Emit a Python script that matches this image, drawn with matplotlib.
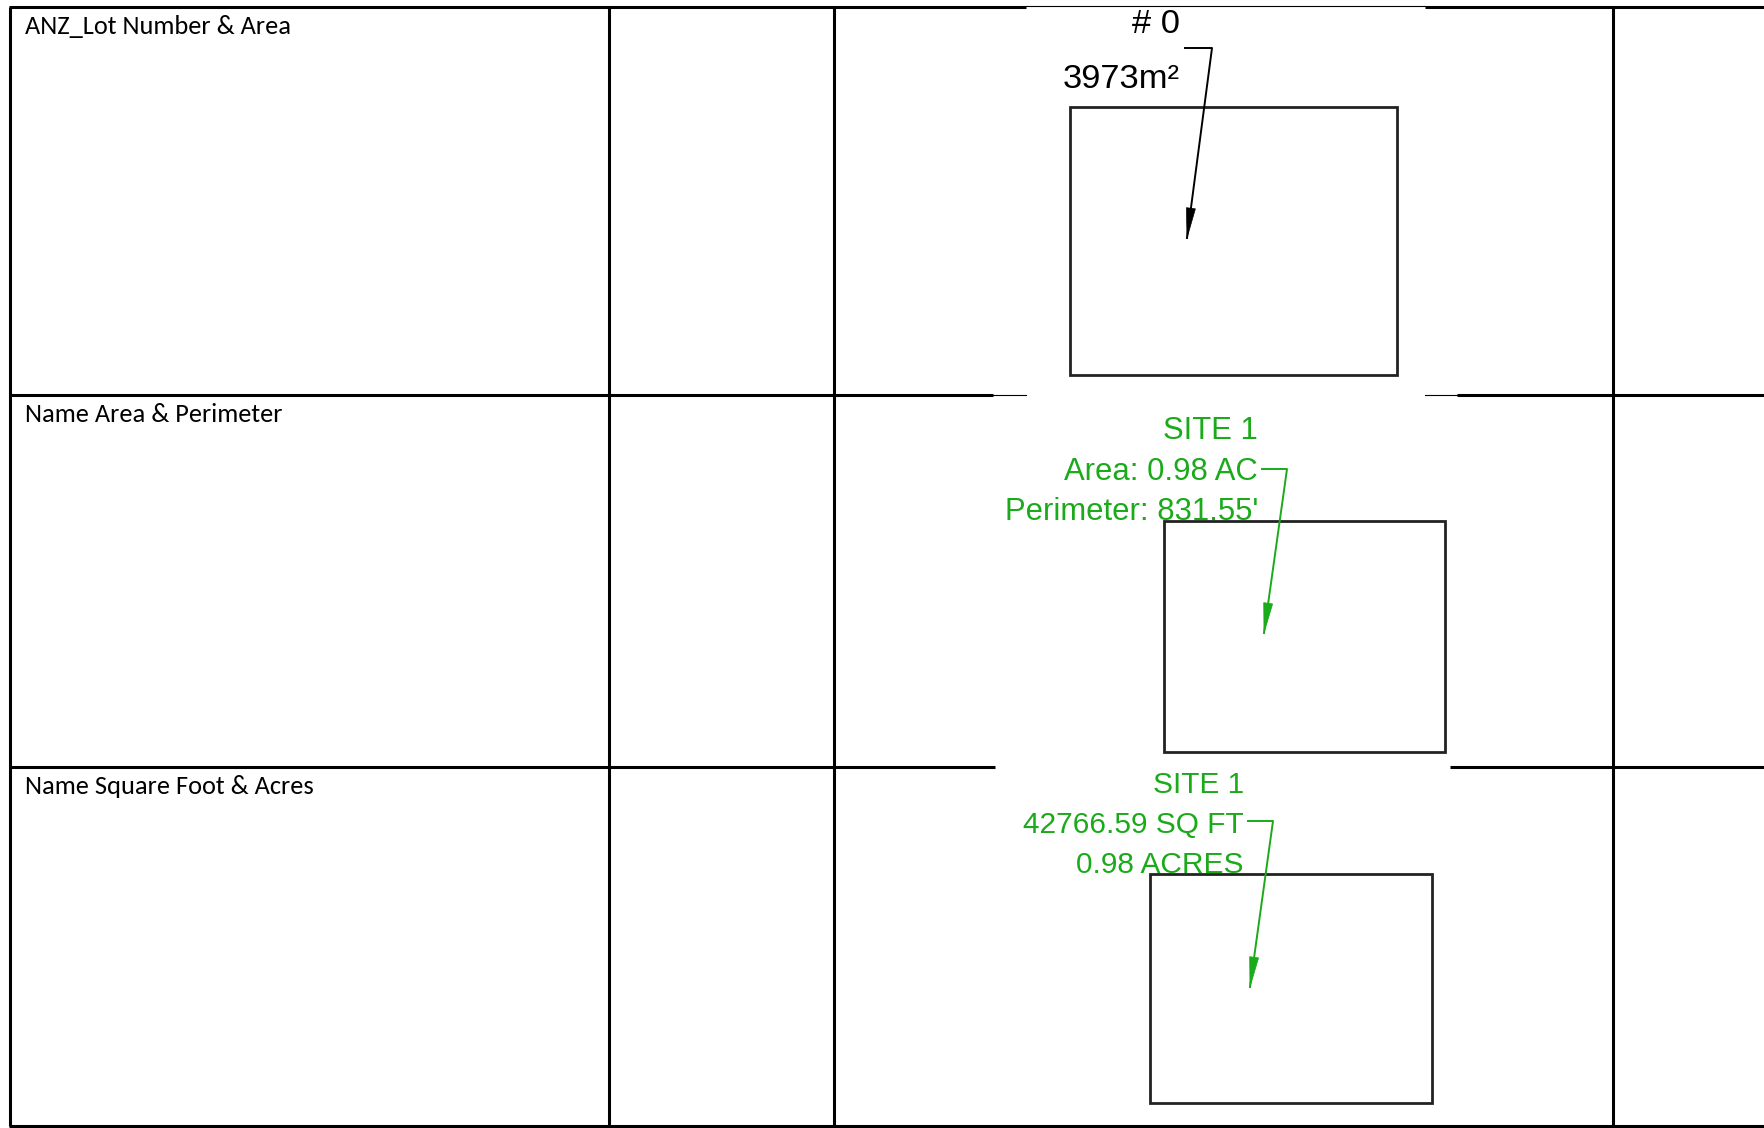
import matplotlib
matplotlib.use('Agg')
import matplotlib.pyplot as plt
from matplotlib import font_manager
from matplotlib.patches import Rectangle, Polygon
import numpy as np

# table content
row_labels = ['ANZ_Lot Number & Area', 'Name Area & Perimeter', 'Name Square Foot & Acres']
label_lines = [['# 0', '3973m²'],
               ['SITE 1', 'Area: 0.98 AC', "Perimeter: 831.55'"],
               ['SITE 1', '42766.59 SQ FT', '0.98 ACRES']]
label_colors = ['black', '#1aaa1a', '#1aaa1a']

# page layout in pixels (y down)
W, H = 1764, 1128
col_x = [10, 609, 834, 1613]
row_y = [7, 395, 767, 1126]
# pasted CAD images hide the table rules: (x0, x1) per row line
gaps = {7: (1026, 1425), 395: (993, 1457), 767: (995, 1450)}

# CAD panels: text right edge, baselines, leader (start, corner, tip), lot box
panels = [
    dict(tx=1180, base=[33, 88], lead=[(1185, 48), (1212, 48), (1187, 238)],
         box=(1070, 107, 327, 268), text_w=117),
    dict(tx=1258, base=[439, 479.5, 520], lead=[(1262, 469), (1287, 469), (1264, 633)],
         box=(1164, 521, 281, 231), text_w=252),
    dict(tx=1244, base=[793, 833, 873], lead=[(1248, 821), (1273, 821), (1250, 987)],
         box=(1150, 874, 282, 229), text_w=221),
]


def pick_font(names):
    for n in names:
        try:
            font_manager.findfont(n, fallback_to_default=False)
            return n
        except ValueError:
            pass
    return 'DejaVu Sans'


cad_font = pick_font(['Liberation Sans', 'Roboto'])
label_font = pick_font(['Carlito', 'Lato'])

fig = plt.figure(figsize=(W / 100, H / 100), dpi=100)
ax = fig.add_axes([0, 0, 1, 1])
ax.set_xlim(0, W)
ax.set_ylim(H, 0)
ax.axis('off')

lw = 2.2
# horizontal rules
for y in row_y:
    if y in gaps:
        g0, g1 = gaps[y]
        ax.plot([col_x[0] - 1, g0], [y, y], color='black', lw=lw, solid_capstyle='butt')
        ax.plot([g1, W], [y, y], color='black', lw=lw, solid_capstyle='butt')
    else:
        ax.plot([col_x[0] - 1, W], [y, y], color='black', lw=lw, solid_capstyle='butt')
# thin remnants of rules at image edges
ax.plot([1026, 1425], [6, 6], color='black', lw=0.8)
ax.plot([993, 1026], [395, 395], color='black', lw=0.8)
ax.plot([1425, 1457], [395, 395], color='black', lw=0.8)
# vertical rules
for x in col_x:
    ax.plot([x, x], [row_y[0], row_y[-1]], color='black', lw=lw, solid_capstyle='butt')

# row labels
for y, lab in zip(row_y[:-1], row_labels):
    ax.text(25, y + 19, lab, fontsize=19, family=label_font, va='center', ha='left')

fig.canvas.draw()
renderer = fig.canvas.get_renderer()

for p, lines, c in zip(panels, label_lines, label_colors):
    bx, by, bw, bh = p['box']
    ax.add_patch(Rectangle((bx, by), bw, bh, fill=False, ec='#222222', lw=2.0))
    texts = []
    for s, yb in zip(lines, p['base']):
        t = ax.text(p['tx'], yb, s, color=c, fontsize=20,
                    family=cad_font, ha='right', va='baseline')
        texts.append(t)
    widest = max(t.get_window_extent(renderer).width for t in texts)
    for t in texts:
        t.set_fontsize(20 * p['text_w'] / widest)
    pts = np.array(p['lead'], dtype=float)
    ax.plot(pts[:, 0], pts[:, 1], color=c, lw=1.4)
    # filled arrowhead at the tip
    d = pts[2] - pts[1]
    d = d / np.hypot(*d)
    nrm = np.array([-d[1], d[0]])
    tip = pts[2]
    base = tip - 30 * d
    ax.add_patch(Polygon([tip, base + 4.5 * nrm, base - 4.5 * nrm], closed=True,
                         fc=c, ec=c, lw=0.5))

fig.savefig('out.png', dpi=100, facecolor='white')
